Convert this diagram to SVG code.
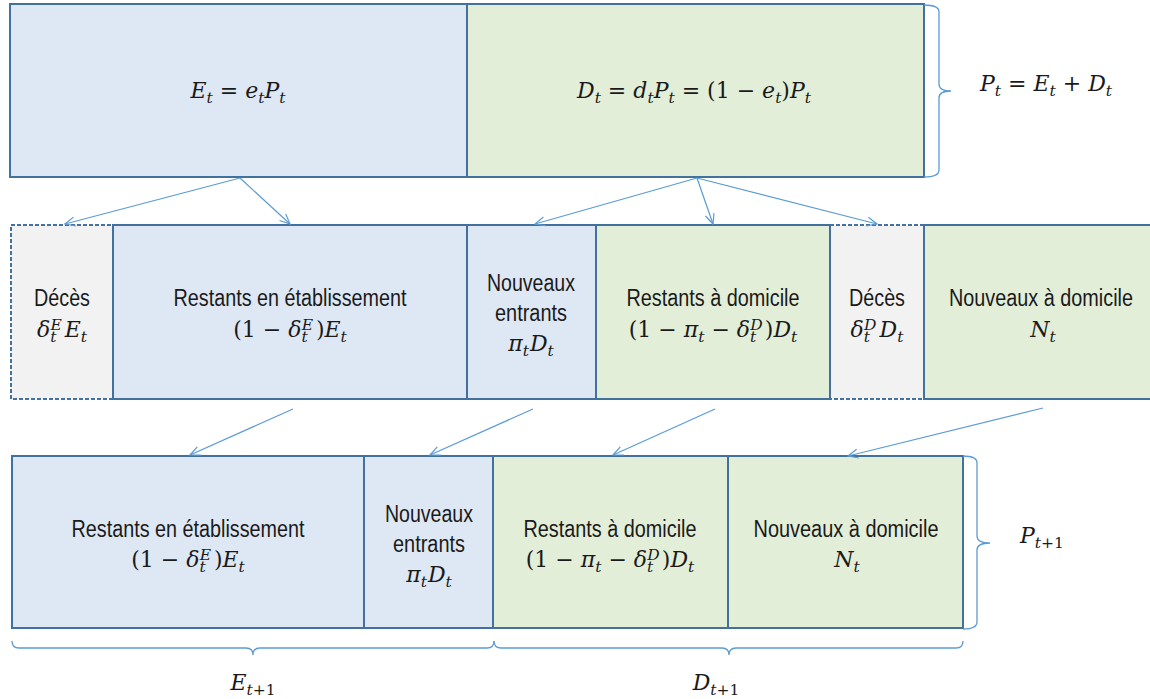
<svg xmlns="http://www.w3.org/2000/svg" width="1150" height="699" viewBox="0 0 1150 699">
<defs>
<marker id="ah" markerUnits="userSpaceOnUse" markerWidth="12" markerHeight="12" viewBox="0 0 12 12" refX="11" refY="6" orient="auto">
<path d="M1,1.5 L11,6 L1,10.5" fill="none" stroke="#5b9bd5" stroke-width="1.2"/>
</marker>
<style>
.box{stroke:#41719c;stroke-width:2}
.blue{fill:#dee8f4}
.green{fill:#e3eed9}
.dead{fill:#f2f2f2;stroke-dasharray:4 2}
.t{font-family:"Liberation Sans",Arial,sans-serif;font-size:23px;fill:#1a1a1a;text-anchor:middle}
.m{font-family:"DejaVu Serif",serif;font-size:22px;font-style:italic;fill:#1a1a1a;text-anchor:middle}
.u{font-style:normal}
.s{font-size:15.5px}
.arr{stroke:#5b9bd5;stroke-width:1.2;fill:none;marker-end:url(#ah)}
.br{stroke:#5b9bd5;stroke-width:1.3;fill:none}
</style>
</defs>
<rect width="1150" height="699" fill="#ffffff"/>

<!-- top row -->
<g id="E_t">
<rect class="box blue" x="10" y="4" width="457" height="173"/>
<text class="m" x="238" y="98">E<tspan class="s" dy="5">t</tspan><tspan class="u" dy="-5"> = </tspan>e<tspan class="s" dy="5">t</tspan><tspan dy="-5">P</tspan><tspan class="s" dy="5">t</tspan></text>
</g>
<g id="D_t">
<rect class="box green" x="467" y="4" width="457" height="173"/>
<text class="m" x="694" y="98">D<tspan class="s" dy="5">t</tspan><tspan class="u" dy="-5"> = </tspan>d<tspan class="s" dy="5">t</tspan><tspan dy="-5">P</tspan><tspan class="s" dy="5">t</tspan><tspan class="u" dy="-5"> = (1 − </tspan>e<tspan class="s" dy="5">t</tspan><tspan class="u" dy="-5">)</tspan>P<tspan class="s" dy="5">t</tspan></text>
</g>
<g id="P_t">
<path class="br" d="M924,5 Q939,5 939,12 L939,84 Q939,91 951,91 Q939,91 939,98 L939,170 Q939,177 924,177"/>
<text class="m" x="980" y="91" style="text-anchor:start">P<tspan class="s" dy="5">t</tspan><tspan class="u" dy="-5"> = </tspan>E<tspan class="s" dy="5">t</tspan><tspan class="u" dy="-5"> + </tspan>D<tspan class="s" dy="5">t</tspan></text>
</g>

<!-- middle row -->
<g id="deces_E">
<rect class="box dead" x="11" y="225" width="102" height="174"/>
<text class="t" x="62" y="306" textLength="56" lengthAdjust="spacingAndGlyphs">Décès</text>
<text class="m" x="62" y="337">δ<tspan class="s" dy="5">t</tspan><tspan class="s" dx="-6" dy="-12">E</tspan><tspan dx="3" dy="7">E</tspan><tspan class="s" dy="5">t</tspan></text>
</g>
<g id="deces_D">
<rect class="box dead" x="830" y="225" width="94" height="174"/>
<text class="t" x="877" y="306" textLength="56" lengthAdjust="spacingAndGlyphs">Décès</text>
<text class="m" x="877" y="337">δ<tspan class="s" dy="5">t</tspan><tspan class="s" dx="-6" dy="-12">D</tspan><tspan dx="3" dy="7">D</tspan><tspan class="s" dy="5">t</tspan></text>
</g>
<g id="restants_etab_t">
<rect class="box blue" x="113" y="225" width="354" height="174"/>
<text class="t" x="290" y="306" textLength="233" lengthAdjust="spacingAndGlyphs">Restants en établissement</text>
<text class="m" x="290" y="337"><tspan class="u">(1 − </tspan>δ<tspan class="s" dy="5">t</tspan><tspan class="s" dx="-6" dy="-12">E</tspan><tspan class="u" dx="3" dy="7">)</tspan>E<tspan class="s" dy="5">t</tspan></text>
</g>
<g id="nouveaux_entrants_t">
<rect class="box blue" x="467" y="225" width="129" height="174"/>
<text class="t" x="531" y="291" textLength="88" lengthAdjust="spacingAndGlyphs">Nouveaux</text>
<text class="t" x="531" y="321" textLength="72" lengthAdjust="spacingAndGlyphs">entrants</text>
<text class="m" x="531" y="351">π<tspan class="s" dy="5">t</tspan><tspan dx="1" dy="-5">D</tspan><tspan class="s" dy="5">t</tspan></text>
</g>
<g id="restants_dom_t">
<rect class="box green" x="596" y="225" width="234" height="174"/>
<text class="t" x="713" y="306" textLength="173" lengthAdjust="spacingAndGlyphs">Restants à domicile</text>
<text class="m" x="713" y="337"><tspan class="u">(1 − </tspan>π<tspan class="s" dy="5">t</tspan><tspan class="u" dy="-5"> − </tspan>δ<tspan class="s" dy="5">t</tspan><tspan class="s" dx="-6" dy="-12">D</tspan><tspan class="u" dx="2" dy="7">)</tspan>D<tspan class="s" dy="5">t</tspan></text>
</g>
<g id="nouveaux_dom_t">
<rect class="box green" x="924" y="225" width="227" height="174"/>
<text class="t" x="1041" y="306" textLength="184" lengthAdjust="spacingAndGlyphs">Nouveaux à domicile</text>
<text class="m" x="1043" y="337">N<tspan class="s" dy="5">t</tspan></text>
</g>

<!-- bottom row -->
<g id="restants_etab_t1">
<rect class="box blue" x="12" y="456" width="352" height="172"/>
<text class="t" x="188" y="537" textLength="233" lengthAdjust="spacingAndGlyphs">Restants en établissement</text>
<text class="m" x="188" y="567"><tspan class="u">(1 − </tspan>δ<tspan class="s" dy="5">t</tspan><tspan class="s" dx="-6" dy="-12">E</tspan><tspan class="u" dx="3" dy="7">)</tspan>E<tspan class="s" dy="5">t</tspan></text>
</g>
<g id="nouveaux_entrants_t1">
<rect class="box blue" x="364" y="456" width="129" height="172"/>
<text class="t" x="429" y="522" textLength="88" lengthAdjust="spacingAndGlyphs">Nouveaux</text>
<text class="t" x="429" y="552" textLength="72" lengthAdjust="spacingAndGlyphs">entrants</text>
<text class="m" x="429" y="582">π<tspan class="s" dy="5">t</tspan><tspan dx="1" dy="-5">D</tspan><tspan class="s" dy="5">t</tspan></text>
</g>
<g id="restants_dom_t1">
<rect class="box green" x="493" y="456" width="235" height="172"/>
<text class="t" x="610" y="537" textLength="173" lengthAdjust="spacingAndGlyphs">Restants à domicile</text>
<text class="m" x="610" y="567"><tspan class="u">(1 − </tspan>π<tspan class="s" dy="5">t</tspan><tspan class="u" dy="-5"> − </tspan>δ<tspan class="s" dy="5">t</tspan><tspan class="s" dx="-6" dy="-12">D</tspan><tspan class="u" dx="2" dy="7">)</tspan>D<tspan class="s" dy="5">t</tspan></text>
</g>
<g id="nouveaux_dom_t1">
<rect class="box green" x="728" y="456" width="235" height="172"/>
<text class="t" x="846" y="537" textLength="185" lengthAdjust="spacingAndGlyphs">Nouveaux à domicile</text>
<text class="m" x="847" y="567">N<tspan class="s" dy="5">t</tspan></text>
</g>

<!-- braces and labels -->
<g id="P_t1">
<path class="br" d="M963,456 Q977,456 977,463 L977,536 Q977,543 990,543 Q977,543 977,550 L977,622 Q977,629 963,629"/>
<text class="m" x="1020" y="543" style="text-anchor:start">P<tspan class="s" dy="5">t</tspan><tspan class="s u">+1</tspan></text>
</g>
<g id="E_t1">
<path class="br" d="M12,641 Q12,648 19,648 L246,648 Q253,648 253,655 Q253,648 260,648 L487,648 Q494,648 494,641"/>
<text class="m" x="253" y="690">E<tspan class="s" dy="5">t</tspan><tspan class="s u">+1</tspan></text>
</g>
<g id="D_t1">
<path class="br" d="M494,641 Q494,648 501,648 L722,648 Q729,648 729,655 Q729,648 736,648 L956,648 Q963,648 963,641"/>
<text class="m" x="716" y="690">D<tspan class="s" dy="5">t</tspan><tspan class="s u">+1</tspan></text>
</g>

<!-- connectors -->
<g id="connectors">
<line class="arr" x1="240" y1="178" x2="65" y2="224"/>
<line class="arr" x1="240" y1="178" x2="290" y2="224"/>
<line class="arr" x1="697" y1="178" x2="535" y2="224"/>
<line class="arr" x1="697" y1="178" x2="713" y2="224"/>
<line class="arr" x1="697" y1="178" x2="877" y2="224"/>
<line class="arr" x1="293" y1="409" x2="190" y2="455"/>
<line class="arr" x1="533" y1="409" x2="430" y2="455"/>
<line class="arr" x1="715" y1="409" x2="613" y2="455"/>
<line class="arr" x1="1043" y1="408" x2="848" y2="456"/>
</g>
</svg>
